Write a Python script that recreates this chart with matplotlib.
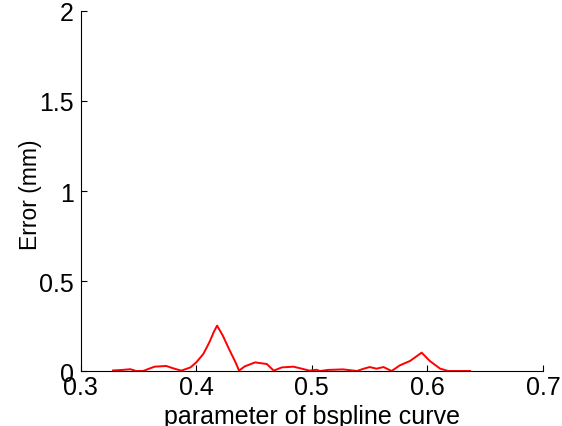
import matplotlib
matplotlib.use('Agg')
import matplotlib.pyplot as plt

plt.rcParams['font.family'] = ['Liberation Sans', 'DejaVu Sans']

# error along the bspline parameter
param = [0.328, 0.336, 0.343, 0.348, 0.354, 0.360, 0.364, 0.374, 0.380, 0.387,
         0.395, 0.400, 0.406, 0.409, 0.412, 0.415, 0.418, 0.423, 0.429, 0.434,
         0.437, 0.442, 0.451, 0.455, 0.461, 0.467, 0.474, 0.484, 0.490, 0.498,
         0.504, 0.507, 0.514, 0.527, 0.539, 0.545, 0.550, 0.556, 0.562, 0.569,
         0.576, 0.585, 0.595, 0.602, 0.611, 0.618, 0.628, 0.637]
error = [0.003, 0.006, 0.010, 0.000, 0.000, 0.015, 0.024, 0.028, 0.015, 0.002,
         0.020, 0.048, 0.094, 0.130, 0.169, 0.215, 0.252, 0.196, 0.113, 0.048,
         0.002, 0.026, 0.048, 0.044, 0.039, 0.002, 0.020, 0.024, 0.015, 0.002,
         0.007, 0.000, 0.006, 0.009, 0.000, 0.013, 0.022, 0.013, 0.022, 0.000,
         0.031, 0.056, 0.102, 0.056, 0.013, 0.000, 0.000, 0.000]

xticks = [0.3, 0.4, 0.5, 0.6, 0.7]
yticks = [0, 0.5, 1, 1.5, 2]

fig = plt.figure(figsize=(5.62, 4.27), dpi=100)
ax = fig.add_axes([0.1436, 0.1288, 0.8226, 0.8431])

ax.plot(param, error, color='red', linewidth=1.4)

ax.set_xlim(0.3, 0.7)
ax.set_ylim(0, 2)
ax.set_xticks(xticks)
ax.set_xticklabels(['0.3', '0.4', '0.5', '0.6', '0.7'])
ax.set_yticks(yticks)
ax.set_yticklabels(['0', '0.5', '1', '1.5', '2'])

ax.spines['top'].set_visible(False)
ax.spines['right'].set_visible(False)
ax.tick_params(direction='in', length=4, labelsize=18)
ax.tick_params(axis='x', pad=3)
ax.tick_params(axis='y', pad=5)

ax.set_xlabel('parameter of bspline curve', fontsize=18)
ax.set_ylabel('Error (mm)', fontsize=16.5)
ax.xaxis.set_label_coords(0.5, -0.092)
ax.yaxis.set_label_coords(-0.084, 0.492)

fig.savefig('out.png', dpi=100)
